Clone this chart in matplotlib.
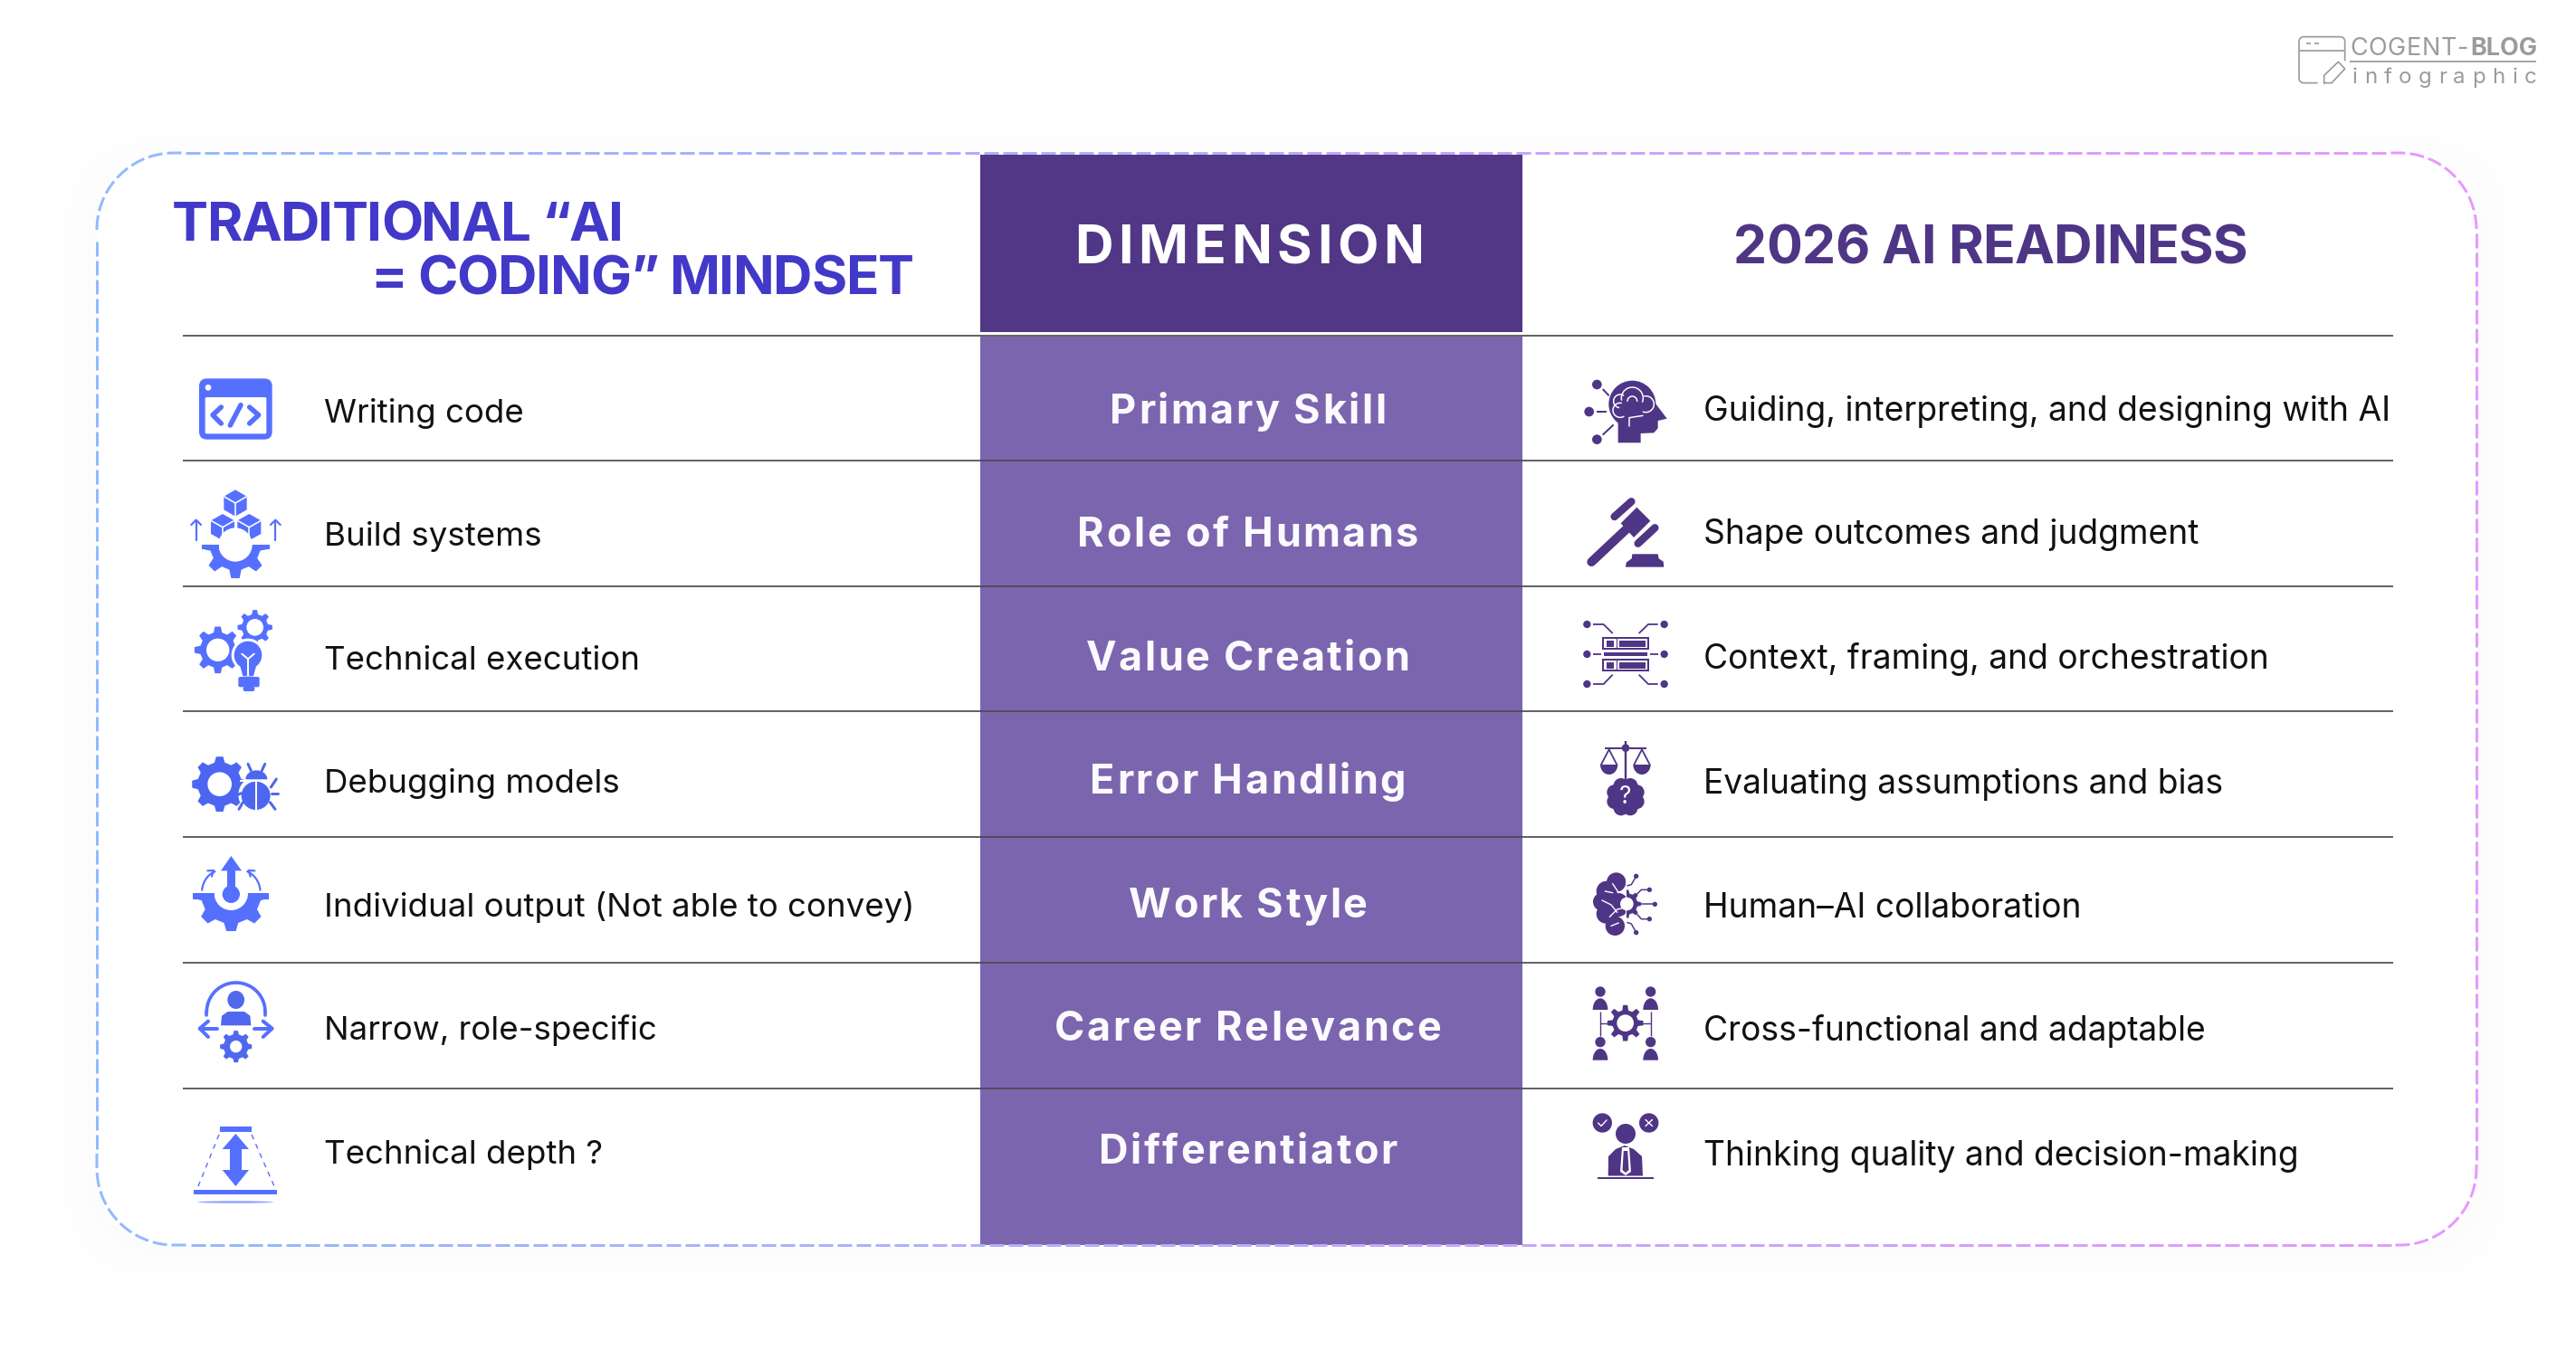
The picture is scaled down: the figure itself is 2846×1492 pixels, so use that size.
#!/usr/bin/env python3
# -*- coding: utf-8 -*-
import numpy as np
import matplotlib
matplotlib.use("Agg")
import matplotlib.pyplot as plt
from matplotlib.collections import LineCollection
from matplotlib.font_manager import FontProperties
from matplotlib.patches import Circle, Ellipse, FancyBboxPatch, Polygon, Rectangle
from matplotlib.transforms import Affine2D

# content
left_items = ["Writing code", "Build systems", "Technical execution", "Debugging models",
              "Individual output (Not able to convey)", "Narrow, role-specific", "Technical depth ?"]
dimensions = ["Primary Skill", "Role of Humans", "Value Creation", "Error Handling",
              "Work Style", "Career Relevance", "Differentiator"]
right_items = ["Guiding, interpreting, and designing with AI", "Shape outcomes and judgment",
               "Context, framing, and orchestration", "Evaluating assumptions and bias",
               "Human–AI collaboration", "Cross-functional and adaptable",
               "Thinking quality and decision-making"]
left_title = ["TRADITIONAL “AI", "= CODING” MINDSET"]
mid_title = "DIMENSION"
right_title = "2026 AI READINESS"

# layout, in pixels
left_base = [467, 603, 740, 876, 1013, 1149, 1286]
right_base = [465, 601, 739, 877, 1014, 1150, 1288]
mid_base = [468, 604, 741, 877, 1014, 1150, 1286]
rule_y = [370.5, 509, 647.5, 786, 925, 1064, 1202.5]

FONT = "Inter"
BLUE = "#5570ff"
DEEP = "#4f3585"
MID = "#7b65ae"
HEAD = "#4239c9"
INK = "#111111"
GREY = "#9b9b9b"

fig = plt.figure(figsize=(28.46, 14.92), dpi=100, facecolor="white")
ax = fig.add_axes([0, 0, 1, 1])
ax.set_xlim(0, 2846)
ax.set_ylim(1492, 0)
ax.axis("off")
rend = fig.canvas.get_renderer()

_z = [10]
def nz():
    _z[0] += 1
    return _z[0]

def at(ox=0, oy=0, k=1 / 3):
    return Affine2D().scale(k).translate(ox, oy) + ax.transData

def poly(T, pts, c, clip=None):
    p = Polygon(pts, closed=True, fc=c, ec="none", transform=T, zorder=nz())
    ax.add_patch(p)
    if clip:
        p.set_clip_path(Rectangle(clip[:2], clip[2], clip[3], transform=T))
    return p

def circ(T, x, y, r, c, ec="none", lw=0):
    ax.add_patch(Circle((x, y), r, fc=c, ec=ec, lw=lw * 0.72, transform=T, zorder=nz()))

def oval(T, x, y, w, h, c):
    ax.add_patch(Ellipse((x, y), w, h, fc=c, ec="none", transform=T, zorder=nz()))

def rect(T, x0, y0, x1, y1, c):
    ax.add_patch(Rectangle((x0, y0), x1 - x0, y1 - y0, fc=c, ec="none", transform=T, zorder=nz()))

def rrect(T, x0, y0, x1, y1, r, c):
    ax.add_patch(FancyBboxPatch((x0 + r, y0 + r), x1 - x0 - 2 * r, y1 - y0 - 2 * r,
                                boxstyle=f"round,pad={r},rounding_size={r}", fc=c, ec="none",
                                transform=T, zorder=nz(), mutation_aspect=1))

def stroke(T, pts, c, w, cap="round", ls="-"):
    xs, ys = zip(*pts)
    ax.plot(xs, ys, color=c, lw=w * 0.72, solid_capstyle=cap, solid_joinstyle="round", ls=ls,
            transform=T, zorder=nz())

def arc(cx, cy, rx, ry, a0, a1, n=30):
    t = np.radians(np.linspace(a0, a1, n))
    return list(zip(cx + rx * np.cos(t), cy + ry * np.sin(t)))

def gear(T, cx, cy, R, hole, n, c, clip=None, root=0.76):
    pts = []
    for i in range(n):
        a = 360 * i / n + 90
        s = 360 / n
        for da, rr in ((-0.30, root), (-0.16, 1), (0.16, 1), (0.30, root)):
            t = np.radians(a + da * s)
            pts.append((cx + R * rr * np.cos(t), cy + R * rr * np.sin(t)))
    poly(T, pts, c, clip)
    if hole:
        circ(T, cx, cy, hole, "white")

def cube(T, cx, cy, w, h, c):
    hw, hh = w / 2, h / 2
    poly(T, [(cx, cy - hh), (cx + hw, cy - hh / 2), (cx + hw, cy + hh / 2), (cx, cy + hh),
             (cx - hw, cy + hh / 2), (cx - hw, cy - hh / 2)], c)
    stroke(T, [(cx - hw, cy - hh / 2), (cx, cy), (cx + hw, cy - hh / 2)], "white", 1.6, "butt")
    stroke(T, [(cx, cy), (cx, cy + hh)], "white", 1.6, "butt")

def up_arrow(T, x, y0, y1, hw, c, w):
    stroke(T, [(x, y0), (x, y1)], c, w)
    stroke(T, [(x - hw, y1 + hw), (x, y1), (x + hw, y1 + hw)], c, w)

def text_w(s, fp):
    if not s:
        return 0.0
    return rend.get_text_width_height_descent(s, fp, False)[0]

def tracked(x, base, s, px, track, color, weight="bold", center=False, fit=None):
    fp = FontProperties(family=FONT, weight=weight, size=px * 0.72)
    if fit is not None:
        track = (fit - text_w(s, fp)) / (len(s) - 1)
    if center:
        x = x - (text_w(s, fp) + track * (len(s) - 1)) / 2
    for i, ch in enumerate(s):
        if ch != " ":
            ax.text(x + text_w(s[:i + 1], fp) - text_w(ch, fp) + i * track, base, ch, fontproperties=fp,
                    color=color, va="baseline", ha="left", zorder=nz())

# icons, left column
def ic_code():
    T = at(190, 400)
    rrect(T, 90, 55, 332, 257, 26, BLUE)
    rrect(T, 110, 117, 313, 238, 5, "white")
    circ(T, 120, 85, 10, "white")
    stroke(T, [(163, 150), (135, 176), (163, 204)], BLUE, 5.5)
    stroke(T, [(228, 143), (193, 210)], BLUE, 5.5)
    stroke(T, [(257, 150), (287, 176), (257, 204)], BLUE, 5.5)

def ic_build():
    T = at(190, 400)
    cube(T, 210, 468, 76, 88, BLUE)
    cube(T, 168, 548, 78, 88, BLUE)
    cube(T, 256, 548, 78, 88, BLUE)
    gear(T, 210, 606, 112, 56, 8, BLUE, clip=(90, 606, 240, 120))
    rect(T, 100, 606, 155, 622, BLUE)
    rect(T, 266, 606, 323, 622, BLUE)
    up_arrow(T, 80, 592, 524, 16, BLUE, 2.2)
    up_arrow(T, 343, 592, 524, 16, BLUE, 2.2)

def ic_exec():
    T = at(200, 660)
    gear(T, 122, 175, 78, 38, 8, BLUE)
    gear(T, 245, 100, 58, 28, 8, BLUE)
    circ(T, 222, 192, 55, "white")
    circ(T, 222, 192, 46, BLUE)
    poly(T, [(195, 225), (250, 225), (240, 262), (205, 262)], BLUE)
    rrect(T, 190, 264, 260, 298, 6, BLUE)
    rrect(T, 206, 296, 244, 312, 6, BLUE)
    stroke(T, [(202, 188), (222, 205), (242, 188)], "white", 2)
    stroke(T, [(222, 205), (222, 262)], "white", 2, "butt")

def ic_debug():
    T = at(200, 660)
    c = "#4d66f2"
    gear(T, 128, 620, 92, 40, 8, c, root=0.8)
    circ(T, 250, 655, 60, "white")
    oval(T, 248, 658, 96, 94, c)
    rect(T, 196, 605, 300, 612, "white")
    poly(T, arc(250, 604, 36, 30, 180, 360), c)
    rect(T, 246, 612, 253, 705, "white")
    for pts in ([(232, 575), (222, 553)], [(268, 575), (278, 553)], [(298, 630), (316, 603)],
                [(300, 650), (322, 650)], [(295, 680), (312, 703)], [(205, 680), (192, 703)],
                [(200, 650), (176, 660)]):
        stroke(T, pts, c, 3)

def ic_indiv():
    T = at(200, 930)
    gear(T, 166, 172, 126, 56, 8, BLUE, clip=(30, 172, 270, 140), root=0.8)
    rect(T, 40, 172, 112, 192, BLUE)
    rect(T, 222, 172, 292, 192, BLUE)
    circ(T, 166, 175, 29, BLUE)
    rect(T, 152, 95, 180, 175, BLUE)
    poly(T, [(166, 48), (201, 97), (132, 97)], BLUE)
    stroke(T, arc(135, 170, 66, 75, 187, 250), BLUE, 2.2)
    stroke(T, arc(197, 170, 66, 75, -7, -70), BLUE, 2.2)
    stroke(T, [(88, 97), (108, 96), (102, 116)], BLUE, 2.2)
    stroke(T, [(244, 97), (224, 96), (230, 116)], BLUE, 2.2)

def ic_narrow():
    T = at(200, 930)
    stroke(T, arc(182, 565, 97, 97, 180, 360), BLUE, 3.7)
    stroke(T, [(85, 565), (85, 575)], BLUE, 3.7)
    stroke(T, [(279, 565), (279, 575)], BLUE, 3.7)
    oval(T, 182, 525, 56, 60, "#5068ee")
    poly(T, [(132, 610), (135, 578), (155, 564), (210, 564), (229, 578), (232, 610)], "#5068ee")
    stroke(T, [(120, 620), (64, 620)], BLUE, 4)
    stroke(T, [(90, 596), (62, 620), (90, 648)], BLUE, 4)
    stroke(T, [(244, 620), (300, 620)], BLUE, 4)
    stroke(T, [(272, 596), (302, 620), (272, 648)], BLUE, 4)
    gear(T, 182, 680, 53, 20, 8, "#5068ee", root=0.78)

def ic_depth():
    T = at(k=1)
    rect(T, 243, 1244.7, 278, 1250.7, BLUE)
    poly(T, [(260.4, 1253), (275, 1270), (245.6, 1270)], BLUE)
    poly(T, [(260.4, 1311), (275, 1293), (245.6, 1293)], BLUE)
    rect(T, 254, 1268, 267, 1295, BLUE)
    rect(T, 214, 1314.5, 306, 1319.6, BLUE)
    oval(T, 260, 1328.5, 84, 2.4, "#8fa0ff")
    stroke(T, [(242, 1254), (219, 1311)], BLUE, 1.4, "butt", (0, (4, 4)))
    stroke(T, [(278, 1254), (303, 1311)], BLUE, 1.4, "butt", (0, (4, 4)))

# icons, right column
def ic_head():
    T = at(1740, 410)
    c = DEEP
    circ(T, 190, 110, 78, c)
    poly(T, [(143, 170), (143, 238), (218, 238), (218, 207), (262, 205), (275, 190), (275, 165),
             (305, 158), (265, 105), (190, 80)], c)
    for (x, y, r) in ((73, 45, 16), (47, 135, 16), (73, 227, 16)):
        circ(T, x, y, r, c)
    stroke(T, [(92, 60), (113, 82)], c, 2, "butt")
    stroke(T, [(72, 135), (106, 135)], c, 2, "butt")
    stroke(T, [(92, 212), (128, 178)], c, 2, "butt")
    w = "white"
    stroke(T, arc(190, 90, 36, 36, 170, 380), w, 1.5)
    stroke(T, arc(150, 100, 22, 22, 100, 300), w, 1.5)
    stroke(T, arc(235, 110, 27, 27, -100, 110), w, 1.5)
    stroke(T, arc(150, 130, 24, 24, 60, 280), w, 1.5)
    stroke(T, [(180, 183), (180, 155), (225, 148)], w, 1.5)
    stroke(T, arc(190, 100, 16, 16, 180, 360), w, 1.5)

def ic_gavel():
    T = at(1740, 410)
    c = DEEP
    poly(T, [(152, 505), (205, 452), (250, 497), (195, 552)], c)
    stroke(T, [(131, 483), (187, 433)], c, 8.5)
    stroke(T, [(209, 572), (265, 520)], c, 8.5)
    stroke(T, [(170, 525), (55, 633)], c, 10)
    poly(T, [(168, 650), (170, 635), (188, 622), (190, 607), (275, 607), (278, 622), (293, 632), (295, 650)], c)

def ic_context():
    T = at(1740, 680)
    c = DEEP
    for y0 in (72, 143):
        rect(T, 90, y0, 247, y0 + 43, c)
        rect(T, 96, y0 + 6, 241, y0 + 37, "white")
        rect(T, 105, y0 + 13, 130, y0 + 33, c)
        rect(T, 148, y0 + 13, 233, y0 + 33, c)
    rect(T, 137, 72, 141, 115, c)
    rect(T, 137, 143, 141, 186, c)
    rect(T, 97, 123, 240, 136, c)
    for x in (40, 296):
        for y in (30, 129, 228):
            circ(T, x, y, 12.5, c)
    for pts in ([(60, 30), (95, 30), (125, 60)], [(275, 30), (243, 30), (212, 60)],
                [(60, 228), (95, 228), (125, 197)], [(275, 228), (243, 228), (212, 197)],
                [(60, 129), (87, 129)], [(250, 129), (277, 129)]):
        stroke(T, pts, c, 1.8, "butt")

def ic_scales():
    T = at(1740, 680)
    c = DEEP
    stroke(T, [(100, 440), (237, 440)], c, 2, "butt")
    stroke(T, [(168, 418), (168, 545)], c, 2.4, "butt")
    circ(T, 168, 440, 13, c)
    for x in (113, 222):
        poly(T, arc(x, 495, 29, 33, 0, 180), c)
        stroke(T, [(x - 26, 495), (x, 445), (x + 26, 495)], c, 1.8)
    circ(T, 168, 602, 42, c)
    for i in range(8):
        a = np.radians(45 * i + 22.5)
        circ(T, 168 + 40 * np.cos(a), 602 + 40 * np.sin(a), 25, c)
    ax.text(1796, 881, "?", color="white", fontsize=19, family=FONT, ha="center", va="center", zorder=nz())

def ic_brain():
    T = at(1745, 955)
    c = DEEP
    for (x, y, r) in ((122, 60, 32), (90, 90, 34), (75, 125, 30), (88, 165, 32), (118, 205, 32), (125, 135, 40)):
        circ(T, x, y, r, c)
    rect(T, 152, 20, 260, 245, "white")
    w = "white"
    for pts in ([(110, 65), (130, 95)], [(75, 120), (105, 135), (125, 160)], [(100, 175), (125, 150), (148, 145)],
                [(105, 205), (130, 195)], [(85, 90), (110, 95)]):
        stroke(T, pts, w, 1.4)
    gear(T, 157, 132, 47, 22, 8, c, clip=(157, 60, 60, 150))
    for (x, y, x1, y1, x2, y2) in ((188, 40, 172, 68, 157, 72), (232, 85, 205, 85, 190, 100),
                                   (250, 133, 200, 133, 200, 133), (232, 182, 205, 182, 190, 165),
                                   (188, 227, 172, 198, 157, 193)):
        circ(T, x, y, 8, c)
        stroke(T, [(x, y), (x1, y1), (x2, y2)], c, 1.5, "butt")

def ic_cross():
    T = at(1745, 955)
    c = DEEP
    for (x, y) in ((69, 423), (236, 423), (69, 590), (236, 590)):
        circ(T, x, y, 17, c)
        poly(T, arc(x, y + 60, 25, 38, 180, 360), c)
    stroke(T, [(69, 490), (69, 570)], c, 1.4, "butt")
    stroke(T, [(236, 490), (236, 570)], c, 1.4, "butt")
    stroke(T, [(69, 527), (100, 527)], c, 1.4, "butt")
    stroke(T, [(205, 527), (236, 527)], c, 1.4, "butt")
    gear(T, 152, 527, 60, 28, 8, c, root=0.72)

def ic_think():
    T = at(k=1)
    c = DEEP
    circ(T, 1770.3, 1241, 10.7, c)
    circ(T, 1821.7, 1241, 10.7, c)
    stroke(T, [(1765.5, 1241), (1769, 1244.5), (1775, 1238)], "white", 1.4)
    stroke(T, [(1818, 1237.5), (1825.5, 1244.5)], "white", 1.4)
    stroke(T, [(1825.5, 1237.5), (1818, 1244.5)], "white", 1.4)
    circ(T, 1796, 1253, 11, c)
    poly(T, [(1776.7, 1299.5), (1777, 1278), (1785, 1270), (1795, 1266), (1805, 1270), (1814, 1278), (1815, 1299.5)], c)
    poly(T, [(1792, 1268), (1800, 1268), (1802, 1295), (1796, 1299), (1790, 1295)], "white")
    poly(T, [(1793.8, 1272), (1798.2, 1272), (1799.5, 1293), (1796, 1296), (1792.5, 1293)], c)
    stroke(T, [(1765, 1301.5), (1826.7, 1301.5)], c, 2, "butt")

def rounded_path(x0, y0, x1, y1, r):
    pts = arc(x0 + r, y0 + r, r, r, 180, 270) + arc(x1 - r, y0 + r, r, r, 270, 360)
    pts += arc(x1 - r, y1 - r, r, r, 0, 90) + arc(x0 + r, y1 - r, r, r, 90, 180)
    pts.append(pts[0])
    return np.array(pts)

# page shadow, very faint
for pad, shade in ((50, "#fefefe"), (30, "#fdfdfd"), (12, "#fcfcfc")):
    rrect(at(k=1), 107 - pad, 169 - pad + 18, 2736 + pad, 1376 + pad, 85 + pad / 2, shade)
rrect(at(k=1), 107, 169, 2736, 1376, 85, "white")

# centre column
rect(at(k=1), 1083, 171, 1682, 367, "#513786")
rect(at(k=1), 1083, 372, 1682, 1376, MID)

# rules
for y in rule_y:
    ax.plot([202, 2644], [y, y], color="#4a4a4a", lw=1.7 * 0.72, solid_capstyle="butt", zorder=nz())

# dashed gradient border
path = rounded_path(107, 169, 2736, 1376, 85)
seg = np.hypot(*np.diff(path, axis=0).T)
dist = np.r_[0, np.cumsum(seg)]
starts = np.arange(0, dist[-1] - 16, 21.0)
dashes, cols = [], []
c0, c1 = np.array([146, 186, 253]) / 255, np.array([230, 153, 255]) / 255
for s in starts:
    d = np.r_[s, dist[(dist > s) & (dist < s + 16)], s + 16]
    xy = np.c_[np.interp(d, dist, path[:, 0]), np.interp(d, dist, path[:, 1])]
    dashes.append(xy)
    f = (xy[:, 0].mean() - 107) / (2736 - 107)
    cols.append(c0 + (c1 - c0) * f)
ax.add_collection(LineCollection(dashes, colors=cols, linewidths=3 * 0.72, capstyle="butt", zorder=nz()))

# titles
tracked(190, 266, left_title[0], 60, 0, HEAD, fit=689 - 190)
tracked(409, 325, left_title[1], 60, 0, HEAD, fit=1010 - 409)
tracked(1187, 291, mid_title, 59, 0, "white", fit=1573 - 1187)
tracked(1915, 291, right_title, 59, 0, DEEP, fit=2483 - 1915)

# rows
for i in range(7):
    ax.text(358, left_base[i], left_items[i], fontsize=36.6 * 0.72, family=FONT, color=INK, va="baseline", zorder=nz())
    ax.text(1882, right_base[i], right_items[i], fontsize=37.2 * 0.72, family=FONT, color=INK, va="baseline", zorder=nz())
    tracked(1378.5, mid_base[i], dimensions[i], 45, 2.5, "#fbfaff", weight="bold", center=True)

for fn in (ic_code, ic_build, ic_exec, ic_debug, ic_indiv, ic_narrow, ic_depth,
           ic_head, ic_gavel, ic_context, ic_scales, ic_brain, ic_cross, ic_think):
    fn()

# logo
T = at(2500, 0)
stroke(T, [(180, 275), (135, 275)] + arc(135, 260, 15, 15, 90, 180, 8) + arc(135, 137, 15, 15, 180, 270, 8)
       + arc(257, 137, 15, 15, 270, 360, 8) + [(272, 200)], GREY, 1.7)
stroke(T, [(120, 168), (272, 168)], GREY, 1.7, "butt")
stroke(T, [(145, 145), (160, 145)], GREY, 1.7, "butt")
stroke(T, [(172, 145), (187, 145)], GREY, 1.7, "butt")
stroke(T, [(203, 275), (203, 250), (250, 205), (272, 228), (228, 275), (203, 275)], GREY, 1.7)
stroke(T, [(288, 204), (905, 204)], GREY, 1.8, "butt")
tracked(2596, 61, "COGENT-", 27, 0, GREY, weight="normal", fit=2727 - 2596)
ax.text(2803, 61, "BLOG", fontsize=27 * 0.72, family=FONT, fontweight="bold", color=GREY, ha="right", va="baseline", zorder=nz())
tracked(2599, 91.7, "infographic", 24, 0, GREY, weight="normal", fit=2802 - 2599)

fig.savefig("out.png", dpi=100, facecolor="white")
